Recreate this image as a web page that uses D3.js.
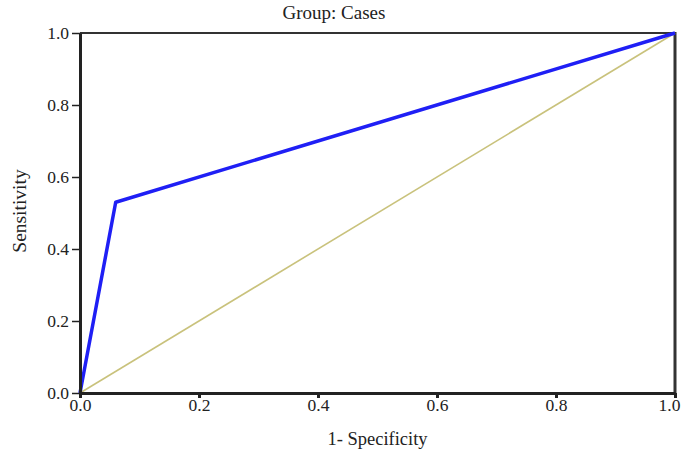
<!DOCTYPE html>
<html>
<head>
<meta charset="utf-8">
<script src="https://cdn.jsdelivr.net/npm/d3@7"></script>
<style>
  body { margin: 0; background: #fff; }
  text { font-family: "Liberation Serif", "Times New Roman", serif; fill: #222; }
</style>
</head>
<body>
<div id="chart"></div>
<script>
// ROC curve
const rocX = [0, 0.06, 1];
const rocY = [0, 0.53, 1];
const refX = [0, 1];
const refY = [0, 1];
const tickValues = [0, 0.2, 0.4, 0.6, 0.8, 1.0];

const width = 682, height = 451;
const margin = {top: 33, right: 7, bottom: 58, left: 80};

const svg = d3.select('#chart').append('svg')
    .attr('width', width)
    .attr('height', height);

const x = d3.scaleLinear().domain([0, 1]).range([margin.left, width - margin.right]);
const y = d3.scaleLinear().domain([0, 1]).range([height - margin.bottom, margin.top]);

// frame
svg.append('line')
    .attr('x1', x(0)).attr('x2', x(1))
    .attr('y1', y(1)).attr('y2', y(1))
    .attr('stroke', '#333').attr('stroke-width', 2);
svg.append('line')
    .attr('x1', x(1)).attr('x2', x(1))
    .attr('y1', y(1) - 1).attr('y2', y(0))
    .attr('stroke', '#333').attr('stroke-width', 3);

// diagonal reference
const line = d3.line().x(d => x(d[0])).y(d => y(d[1]));
svg.append('path')
    .datum(refX.map((v, i) => [v, refY[i]]))
    .attr('d', line)
    .attr('fill', 'none')
    .attr('stroke', '#c9c27c')
    .attr('stroke-width', 1.6);

// roc curve
svg.append('path')
    .datum(rocX.map((v, i) => [v, rocY[i]]))
    .attr('d', line)
    .attr('fill', 'none')
    .attr('stroke', '#1f1ff5')
    .attr('stroke-width', 3.5)
    .attr('stroke-linejoin', 'round');

// axes
const xAxis = svg.append('g')
    .attr('transform', `translate(0,${y(0)})`)
    .call(d3.axisBottom(x).tickValues(tickValues).tickFormat(d3.format('.1f'))
        .tickSize(5).tickSizeOuter(0));
xAxis.select('.domain').attr('stroke', '#222').attr('stroke-width', 3);
xAxis.selectAll('.tick line').attr('stroke', '#222').attr('stroke-width', 3);
xAxis.selectAll('.tick text').attr('font-size', 17.5).attr('y', 5).attr('dy', '0.75em')
    .attr('font-family', '"Liberation Serif", serif').attr('fill', '#222');
// keep the last label inside the picture
xAxis.selectAll('.tick text').filter(d => d === 1).attr('dx', -6);

const yAxis = svg.append('g')
    .attr('transform', `translate(${x(0)},0)`)
    .call(d3.axisLeft(y).tickValues(tickValues).tickFormat(d3.format('.1f'))
        .tickSize(8).tickSizeOuter(0));
yAxis.select('.domain').attr('stroke', '#222').attr('stroke-width', 3);
yAxis.selectAll('.tick line').attr('stroke', '#222').attr('stroke-width', 1.5);
yAxis.selectAll('.tick text').attr('font-size', 17.5).attr('x', -11)
    .attr('font-family', '"Liberation Serif", serif').attr('fill', '#222');

// titles
svg.append('text')
    .attr('x', 334).attr('y', 19)
    .attr('text-anchor', 'middle')
    .attr('font-size', 19)
    .text('Group: Cases');

svg.append('text')
    .attr('x', (x(0) + x(1)) / 2).attr('y', 445)
    .attr('text-anchor', 'middle')
    .attr('font-size', 18.5)
    .text('1- Specificity');

svg.append('text')
    .attr('transform', `translate(26,211) rotate(-90)`)
    .attr('text-anchor', 'middle')
    .attr('font-size', 19.5)
    .text('Sensitivity');
</script>
</body>
</html>
